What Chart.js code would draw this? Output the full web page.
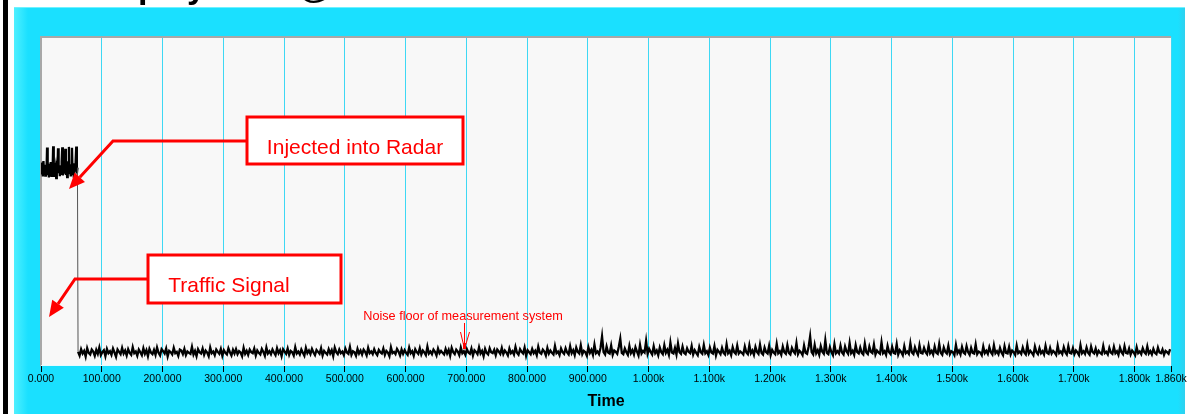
<!DOCTYPE html>
<html>
<head>
<meta charset="utf-8">
<script src="https://cdn.jsdelivr.net/npm/chart.js@4"></script>
<style>
  html, body { margin: 0; padding: 0; background: #ffffff; }
  #wrap { width: 1189px; height: 414px; position: relative; }
  canvas { display: block; }
</style>
</head>
<body>
<div id="wrap"><canvas id="c" width="1189" height="414"></canvas></div>
<script>
// ---- Data ----
const tickValues = [0,100,200,300,400,500,600,700,800,900,1000,1100,1200,1300,1400,1500,1600,1700,1800,1860];

// Injected segment: sampled every 1 time unit from 0 to 60
const injectedStart = 0;
const injectedStep = 1;
const injectedLevels = [
  60.5,58.2,61.8,57.6,62.3,59.0,61.2,57.9,60.8,58.5,
  66.4,58.0,61.5,57.3,60.9,59.2,62.0,57.8,60.3,58.7,
  66.8,57.5,61.7,58.9,60.2,57.1,62.4,58.6,66.2,59.3,
  61.0,57.7,60.6,58.4,62.1,66.5,57.9,60.7,58.8,61.4,
  66.0,58.1,60.4,57.4,62.2,59.1,66.6,58.3,61.3,57.6,
  60.1,66.3,58.0,61.6,57.2,60.8,59.4,62.0,66.7,58.5,60.3
];

// Noise floor segment: sampled every 2.5 time units from 61 onward
const noiseStart = 61;
const noiseStep = 2.5;
const noiseLevels = [
  4.3,3.2,5.1,3.8,4.6,2.9,5.4,4.0,3.5,5.0,4.4,3.1,4.9,3.7,5.6,3.3,4.2,4.8,3.0,5.2,3.9,4.5,3.4,5.3,4.1,2.8,5.0,4.3,3.6,5.5,3.8,4.7,3.2,5.1,4.0,3.4,5.7,3.9,4.4,3.1,
  5.0,4.2,3.3,5.4,3.7,4.8,3.0,5.2,4.1,3.6,4.9,3.4,5.6,4.0,3.2,5.1,4.5,3.8,5.3,2.9,4.6,4.2,3.5,5.5,3.9,4.3,3.1,5.0,4.7,3.6,5.2,3.3,4.4,4.0,3.7,5.8,3.5,4.6,3.0,5.1,
  4.2,3.8,5.3,3.4,4.7,4.1,3.0,5.6,3.9,4.4,3.3,5.0,4.3,3.7,5.2,3.1,4.8,4.0,3.5,5.4,4.2,3.2,4.9,3.8,5.1,3.6,4.5,4.1,3.0,5.5,3.7,4.6,3.4,5.0,4.2,3.9,5.3,3.2,4.7,4.0,
  3.5,5.2,4.3,3.1,5.6,3.8,4.5,3.6,5.0,4.1,3.3,5.4,3.9,4.8,3.0,5.1,4.4,3.7,5.3,3.4,4.6,4.2,3.2,5.7,3.8,4.4,3.5,5.0,4.0,3.1,5.5,3.9,4.7,3.6,5.2,4.1,3.3,4.9,4.3,3.7,
  5.4,3.2,4.6,4.0,3.5,5.1,3.8,4.8,3.0,5.6,4.2,3.6,5.0,3.9,4.4,3.3,5.3,4.1,3.7,5.8,3.4,4.5,4.2,3.1,5.2,3.8,4.7,3.5,5.0,4.3,3.2,5.5,3.9,4.4,3.6,5.1,4.0,3.3,4.9,4.2,
  3.8,5.3,3.4,4.6,4.1,3.0,5.7,3.9,4.3,3.6,5.2,4.4,3.2,5.0,3.7,4.8,4.0,3.4,5.6,3.9,4.5,3.1,5.1,4.2,3.7,5.4,3.5,4.7,4.1,3.3,5.9,3.8,4.4,3.6,5.0,4.3,3.2,5.3,3.9,4.6,
  4.0,3.5,5.2,3.8,4.9,3.1,5.5,4.2,3.6,5.0,4.4,3.3,5.6,3.9,4.5,3.4,5.1,4.1,3.7,5.3,3.2,4.8,4.3,3.6,5.7,3.8,4.6,3.0,5.2,4.0,3.5,5.4,4.2,3.9,4.9,3.3,5.0,4.4,3.7,5.5,
  3.6,4.7,4.1,3.2,5.3,3.9,4.5,3.5,5.8,4.0,3.4,5.1,4.3,3.8,5.6,3.1,4.8,4.2,3.6,5.2,3.9,4.6,3.3,5.9,4.1,3.7,5.0,4.4,3.2,5.5,3.8,4.7,4.0,3.5,6.1,3.9,4.4,3.3,5.3,4.2,
  3.7,5.4,4.1,3.5,6.0,3.9,4.8,3.3,5.6,4.3,3.8,6.3,3.6,4.6,4.2,3.1,5.7,4.0,4.9,3.4,6.5,3.9,4.4,3.6,5.5,9.0,4.2,3.5,5.9,4.1,3.8,6.2,3.4,4.7,4.3,3.7,5.8,8.3,4.0,3.6,
  5.3,4.2,3.4,6.1,3.9,4.8,3.5,5.7,4.4,3.2,6.4,3.8,4.6,4.1,7.6,3.7,5.2,4.3,3.5,6.0,3.9,4.7,3.3,5.6,4.2,3.6,6.3,4.0,4.9,3.4,7.1,4.1,3.8,5.5,3.5,6.8,4.2,3.7,5.9,4.0,
  3.6,5.4,4.3,3.9,6.1,3.5,4.8,4.0,3.3,5.8,4.2,3.7,6.4,3.9,4.5,3.4,5.6,4.1,3.8,6.0,3.2,4.9,4.3,3.6,5.5,4.0,3.5,6.6,3.9,4.6,3.3,5.7,4.2,3.7,6.2,3.8,4.4,4.0,3.5,5.9,
  4.1,3.6,6.3,3.9,4.7,3.4,5.8,4.3,3.7,6.5,4.0,3.5,5.6,4.2,3.8,6.1,3.3,4.9,4.1,3.6,6.7,3.9,4.5,3.4,5.9,4.2,3.7,6.3,4.0,3.5,5.5,4.4,3.8,6.9,3.6,4.6,4.1,3.3,6.2,4.0,
  3.7,5.8,9.0,4.2,3.5,6.4,3.9,4.8,3.4,6.0,4.3,3.7,7.8,4.0,3.6,5.7,4.2,3.3,6.6,3.9,4.5,3.8,6.2,4.1,3.5,5.9,4.4,3.7,7.0,3.9,4.6,3.4,6.3,4.2,3.8,5.6,4.0,3.5,6.8,4.1,
  3.6,5.9,4.3,3.9,6.5,3.5,4.7,4.1,3.7,7.2,3.9,4.5,3.4,6.1,4.2,3.6,5.8,4.0,3.8,6.6,3.5,4.8,4.2,3.3,6.0,3.9,4.4,3.7,6.9,4.1,3.6,5.7,4.3,3.4,6.3,4.0,3.8,5.5,4.2,3.6,
  6.2,3.9,4.6,3.5,5.9,4.1,3.7,6.7,4.0,3.4,5.6,4.3,3.8,6.1,3.6,4.5,4.2,3.3,6.4,3.9,4.7,3.5,5.8,4.1,3.7,6.0,4.2,3.4,5.5,4.0,3.8,6.5,3.6,4.4,4.1,3.3,5.9,3.9,4.6,3.7,
  5.7,4.2,3.5,6.3,3.9,4.5,3.6,5.5,4.1,3.3,6.0,4.0,3.8,5.8,3.5,4.7,4.2,3.4,6.2,3.9,4.4,3.7,5.6,4.1,3.5,6.4,3.8,4.6,4.0,3.3,5.9,4.2,3.6,5.4,3.9,4.5,3.5,6.1,4.0,3.7,
  5.5,3.8,4.6,4.1,3.4,6.2,3.9,4.4,3.6,5.7,4.2,3.5,6.0,4.0,3.8,5.4,3.6,4.7,4.1,3.3,6.3,3.9,4.5,3.7,5.6,4.0,3.4,5.9,4.2,3.8,5.3,3.5,4.6,4.0,3.6,6.1,3.9,4.3,3.5,5.5,
  4.1,3.7,5.8,3.9,4.5,3.4,5.6,4.2,3.6,6.0,4.0,3.8,5.3,3.5,4.7,4.1,3.3,5.7,3.9,4.4,3.6,5.4,4.2,3.7,5.9,3.8,4.5,3.5,5.2,4.0,3.6,5.6,4.1,3.9,5.0,3.4,4.6,4.2,3.7,5.1
];

const xTitle = 'Time';
const annotationMain = 'Injected into Radar';
const annotationTraffic = 'Traffic Signal';
const annotationNoise = 'Noise floor of measurement system';
const pageTitle = 'Time Display Data @ Radar';

// ---- Build points through the library's linear scale ----
const points = [];
injectedLevels.forEach((v, i) => points.push({ x: injectedStart + i * injectedStep, y: v }));
noiseLevels.forEach((v, i) => points.push({ x: noiseStart + i * noiseStep, y: v }));

function fmtTick(v) {
  if (v < 1000) return v.toFixed(3);
  return (v / 1000).toFixed(3) + 'k';
}

const frame = {
  id: 'frame',
  beforeDraw(chart) {
    const ctx = chart.ctx;
    const W = chart.width, H = chart.height;
    const a = chart.chartArea;
    ctx.save();
    ctx.fillStyle = '#ffffff';
    ctx.fillRect(0, 0, W, H);
    // cut-off page title
    ctx.fillStyle = '#000';
    ctx.font = 'bold 34px "Liberation Sans", Arial, sans-serif';
    ctx.textBaseline = 'alphabetic';
    const pre = ctx.measureText('Time Dis').width;
    ctx.fillText(pageTitle, 138 - pre, -2);
    // black left bar
    ctx.fillStyle = '#000';
    ctx.fillRect(3, 0, 5, H);
    // cyan panel
    ctx.fillStyle = '#1ae0ff';
    ctx.fillRect(14, 7, 1171, H - 7);
    const g = ctx.createLinearGradient(14, 0, 28, 0);
    g.addColorStop(0, '#4ff0ff');
    g.addColorStop(1, '#1ae0ff');
    ctx.fillStyle = g;
    ctx.fillRect(14, 7, 14, H - 7);
    const g2 = ctx.createLinearGradient(1178, 0, 1185, 0);
    g2.addColorStop(0, '#1ae0ff');
    g2.addColorStop(1, '#2fd0ee');
    ctx.fillStyle = g2;
    ctx.fillRect(1178, 7, 7, H - 7);
    ctx.fillStyle = '#6ff2ff';
    ctx.fillRect(14, 7, 1171, 1);
    // plot background
    ctx.fillStyle = '#f8f8f8';
    ctx.fillRect(a.left, a.top, a.right - a.left, a.bottom - a.top);
    ctx.restore();
  },
  beforeDatasetsDraw(chart) {
    const ctx = chart.ctx;
    const a = chart.chartArea;
    ctx.save();
    ctx.strokeStyle = '#a8a8a8';
    ctx.lineWidth = 2;
    ctx.beginPath();
    ctx.moveTo(a.left, a.bottom);
    ctx.lineTo(a.left, a.top);
    ctx.lineTo(a.right, a.top);
    ctx.stroke();
    ctx.strokeStyle = '#e6fbff';
    ctx.lineWidth = 1;
    ctx.beginPath();
    ctx.moveTo(a.left, a.bottom - 0.5);
    ctx.lineTo(a.right, a.bottom - 0.5);
    ctx.stroke();
    ctx.restore();
  },
  afterDraw(chart) {
    const ctx = chart.ctx;
    ctx.save();
    const red = '#ff0000';
    function box(x, y, w, h) {
      ctx.fillStyle = '#ffffff';
      ctx.fillRect(x, y, w, h);
      ctx.strokeStyle = red;
      ctx.lineWidth = 3;
      ctx.strokeRect(x, y, w, h);
    }
    function arrow(pts, headLen, headW) {
      ctx.strokeStyle = red;
      ctx.fillStyle = red;
      ctx.lineWidth = 3;
      ctx.lineJoin = 'miter';
      const n = pts.length;
      const [tx, ty] = pts[n - 1];
      const [px, py] = pts[n - 2];
      const dx = tx - px, dy = ty - py;
      const L = Math.hypot(dx, dy);
      const ux = dx / L, uy = dy / L;
      const bx = tx - ux * headLen, by = ty - uy * headLen;
      ctx.beginPath();
      ctx.moveTo(pts[0][0], pts[0][1]);
      for (let i = 1; i < n - 1; i++) ctx.lineTo(pts[i][0], pts[i][1]);
      ctx.lineTo(bx, by);
      ctx.stroke();
      ctx.beginPath();
      ctx.moveTo(tx, ty);
      ctx.lineTo(bx - uy * headW / 2, by + ux * headW / 2);
      ctx.lineTo(bx + uy * headW / 2, by - ux * headW / 2);
      ctx.closePath();
      ctx.fill();
    }
    // Injected into Radar
    box(247, 117, 216, 47);
    arrow([[247, 141], [113, 141], [69, 189]], 16, 14);
    ctx.fillStyle = red;
    ctx.font = '21px "Liberation Sans", Arial, sans-serif';
    ctx.textAlign = 'center';
    ctx.textBaseline = 'alphabetic';
    ctx.fillText(annotationMain, 355, 154);
    // Traffic Signal
    box(148, 255, 193, 48);
    arrow([[148, 279], [75, 279], [49, 317]], 16, 14);
    ctx.fillStyle = red;
    ctx.fillText(annotationTraffic, 229, 292);
    // Noise floor
    ctx.font = '12.7px "Liberation Sans", Arial, sans-serif';
    ctx.fillText(annotationNoise, 463, 320);
    ctx.strokeStyle = red;
    ctx.lineWidth = 1;
    ctx.beginPath();
    ctx.moveTo(464.5, 323);
    ctx.lineTo(464.5, 349);
    ctx.moveTo(460.5, 332);
    ctx.lineTo(464.5, 349);
    ctx.lineTo(469.5, 332);
    ctx.stroke();
    ctx.fillStyle = red;
    ctx.fillRect(463, 343, 3, 6);
    ctx.restore();
  }
};

const isDrop = (c) => Math.abs(c.p1.parsed.y - c.p0.parsed.y) > 30;

new Chart(document.getElementById('c'), {
  type: 'line',
  data: {
    datasets: [{
      data: points,
      borderColor: '#000000',
      borderWidth: 2.3,
      pointRadius: 0,
      tension: 0,
      fill: false,
      segment: {
        borderWidth: (c) => isDrop(c) ? 1 : undefined,
        borderColor: (c) => isDrop(c) ? '#555555' : undefined
      }
    }]
  },
  options: {
    responsive: false,
    animation: false,
    devicePixelRatio: 1,
    parsing: false,
    normalized: true,
    layout: { padding: { left: 41, top: 37, right: 18, bottom: 0 } },
    plugins: {
      legend: { display: false },
      tooltip: { enabled: false },
      title: { display: false }
    },
    scales: {
      x: {
        type: 'linear',
        min: 0,
        max: 1860,
        afterBuildTicks(scale) {
          scale.ticks = tickValues.map(v => ({ value: v }));
        },
        afterFit(scale) { scale.height = 48; },
        ticks: {
          autoSkip: false,
          maxRotation: 0,
          minRotation: 0,
          padding: 1,
          color: '#000',
          font: { family: '"Liberation Sans", Arial, sans-serif', size: 10.5 },
          callback: (v) => fmtTick(v)
        },
        grid: {
          color: '#3ed8f4',
          lineWidth: 1,
          tickColor: '#000',
          tickLength: 6,
          drawOnChartArea: true
        },
        border: { display: false },
        title: {
          display: true,
          text: xTitle,
          color: '#000',
          font: { family: '"Liberation Sans", Arial, sans-serif', size: 16, weight: 'bold' },
          padding: { top: 0, bottom: 3 }
        }
      },
      y: {
        display: false,
        min: 0,
        max: 100
      }
    }
  },
  plugins: [frame]
});
</script>
</body>
</html>
